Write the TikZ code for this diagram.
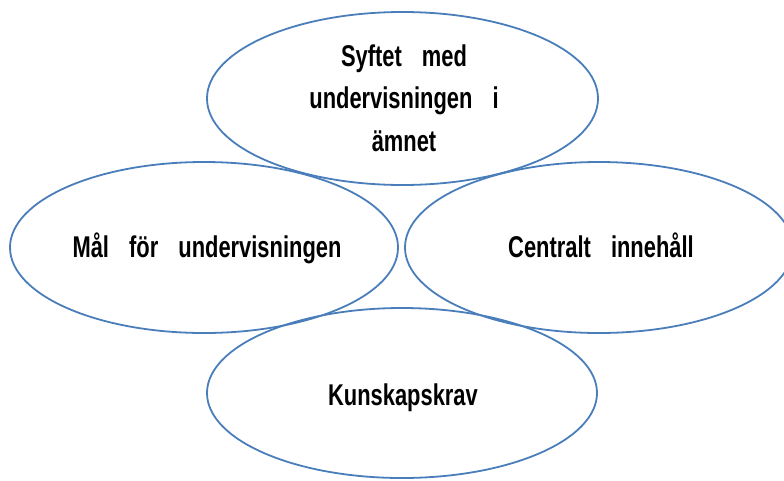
\documentclass[tikz,border=0pt]{standalone}
\usepackage{fontspec}
\setmainfont{Liberation Sans}[FakeStretch=0.73,WordSpace=3.3]
\usetikzlibrary{shapes.geometric}
\definecolor{ringblue}{HTML}{4A7EBB}
\tikzset{
  ring/.style={ellipse,draw=ringblue,line width=1.8pt,inner sep=0pt,fill=none},
  lbl/.style={font=\fontsize{30}{42.5}\selectfont\bfseries,align=center,text=black,inner sep=0pt}
}
\begin{document}
\begin{tikzpicture}[x=1pt,y=-1pt]
\useasboundingbox (0,0) rectangle (784,480);
\node[ring,minimum width=391pt,minimum height=173pt] (top) at (402.5,98.5) {};
\node[ring,minimum width=388pt,minimum height=171pt] (left) at (204,247.5) {};
\node[ring,minimum width=388pt,minimum height=171pt] (right) at (599,247.5) {};
\node[ring,minimum width=390pt,minimum height=170pt] (bottom) at (402,393) {};
\node[lbl,anchor=base] (ttop) at (404,151) {Syftet med\\undervisningen i\\ämnet};
\node[lbl,anchor=base] (tleft) at (207,257.5) {Mål för undervisningen};
\node[lbl,anchor=base] (tright) at (601,257.5) {Centralt innehåll};
\node[lbl,anchor=base] (tbottom) at (403,405) {Kunskapskrav};
\end{tikzpicture}
\end{document}
